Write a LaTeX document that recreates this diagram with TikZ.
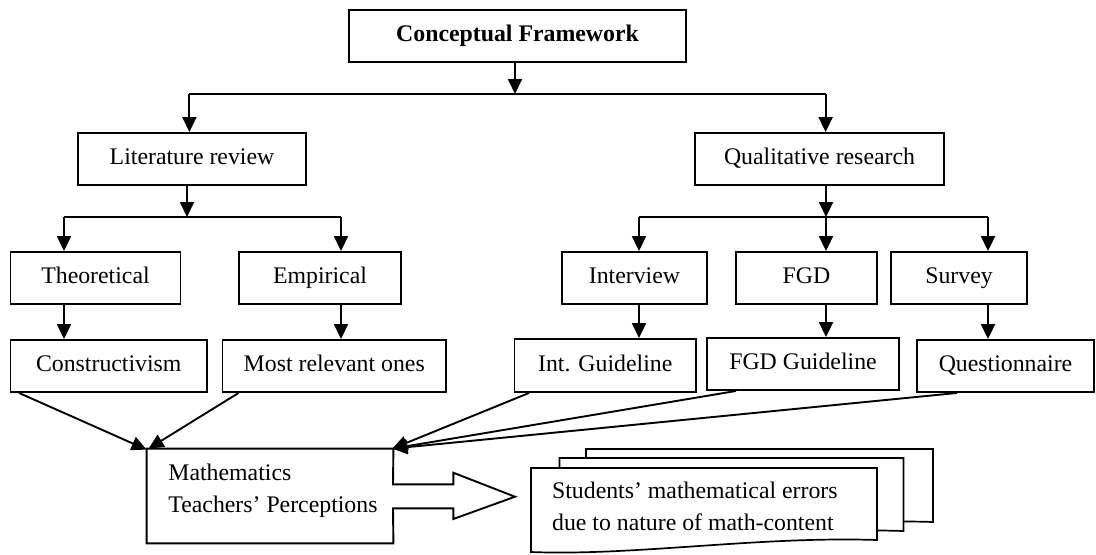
\documentclass[tikz,border=0pt]{standalone}
\usepackage{fontspec}
\setmainfont{Liberation Serif}
\usetikzlibrary{arrows.meta,calc}
\begin{document}
\begin{tikzpicture}[x=0.5pt,y=-0.5pt,
 ln/.style={line width=0.95pt},
 arr/.style={ln,-{Triangle[length=7.5pt,width=7pt]}},
 fnt/.style={font=\fontsize{11.9pt}{16pt}\selectfont},
 box/.style={draw,ln,fnt,inner sep=0pt,minimum height=26pt,text height=8.2pt,text depth=2.6pt},
 txt/.style={fnt,inner sep=0pt,align=left},
 doc/.style={draw,line width=0.85pt,fill=white}]
\useasboundingbox (0,0) rectangle (1096,554);

% boxes
\node[box,minimum width=168.5pt,font=\fontsize{11.9pt}{16pt}\selectfont\bfseries] (cf) at (517.5,36) {Conceptual Framework};
\node[box,minimum width=114pt] (lit) at (192,159) {Literature review};
\node[box,minimum width=124.5pt] (qual) at (819.5,159) {Qualitative research};
\node[box,minimum width=85pt] (theo) at (95.5,278) {Theoretical};
\node[box,minimum width=81pt] (emp) at (320,278) {Empirical};
\node[box,minimum width=98.25pt] (cons) at (108.75,366) {Constructivism};
\node[box,minimum width=111.75pt] (most) at (334.25,366) {Most relevant ones};
\node[box,minimum width=72.5pt] (intv) at (634.5,278) {Interview};
\node[box,minimum width=70.5pt] (fgd) at (806.5,278) {FGD};
\node[box,minimum width=68pt] (surv) at (959,278) {Survey};
\node[box,minimum width=90.75pt,minimum height=26.5pt] (intg) at (605.25,365.5) {Int. Guideline};
\node[box,minimum width=96pt] (fgdg) at (803,364) {FGD Guideline};
\node[box,minimum width=88.5pt] (quest) at (1005.5,366) {Questionnaire};

% top level connectors
\coordinate (j0) at (515,94);
\coordinate (h0L) at (189.4,94);
\coordinate (h0R) at (825.6,94);
\draw[arr] (cf.south -| j0) -- (j0);
\draw[ln] (h0L) -- (h0R);
\draw[arr] (h0L) -- (h0L |- lit.north);
\draw[arr] (h0R) -- (h0R |- qual.north);

% literature branch
\coordinate (j1) at (187,217);
\coordinate (h1L) at (64,217);
\coordinate (h1R) at (341,217);
\draw[arr] (lit.south -| j1) -- (j1);
\draw[ln] (h1L) -- (h1R);
\draw[arr] (h1L) -- (h1L |- theo.north);
\draw[arr] (h1R) -- (h1R |- emp.north);
\draw[arr] (theo.south -| h1L) -- (h1L |- cons.north);
\draw[arr] (emp.south -| h1R) -- (h1R |- most.north);

% qualitative branch
\coordinate (j2) at (826,217);
\coordinate (h2L) at (639,217);
\coordinate (h2R) at (988,217);
\draw[arr] (qual.south -| j2) -- (j2);
\draw[ln] (h2L) -- (h2R);
\draw[arr] (h2L) -- (h2L |- intv.north);
\draw[arr] (j2) -- (j2 |- fgd.north);
\draw[arr] (h2R) -- (h2R |- surv.north);
\draw[arr] (intv.south -| h2L) -- (h2L |- intg.north);
\draw[arr] (fgd.south -| j2) -- (j2 |- fgdg.north);
\draw[arr] (surv.south -| h2R) -- (h2R |- quest.north);

% mathematics box with block arrow
\node[inner sep=0pt,minimum width=123pt,minimum height=47pt] (mbox) at (270,496) {};
\draw[ln,fill=white] (mbox.north west) -- (mbox.north east) -- (393,484.3) -- (453.3,484.3)
  -- (453.3,472.7) -- (515,496.7) -- (453.3,519) -- (453.3,508.3) -- (393,508.3)
  -- (mbox.south east) -- (mbox.south west) -- cycle;
\node[txt,anchor=west] (mtxt) at (168,491) {Mathematics\\Teachers’ Perceptions};

% converging arrows
\draw[arr] ($(cons.south west)+(9.5,0)$) -- ($(mbox.north west)+(0,1)$);
\draw[arr] ($(most.south west)+(17,0)$) -- ($(mbox.north west)+(2,0)$);
\draw[arr] ($(intg.south west)+(15.5,0)$) -- ($(mbox.north east)+(-1,0)$);
\draw[arr] ($(fgdg.south west)+(30,0)$) -- ($(mbox.north east)+(-1,0)$);
\draw[arr] ($(quest.south west)+(41,0)$) -- ($(mbox.north east)+(-1,0)$);

% stacked documents
\draw[doc] (586,449) -- (933,449) -- (933,522) .. controls (815,518) and (690,538) .. (586,534) -- cycle;
\draw[doc] (559.5,458) -- (903.5,458) -- (903.5,531) .. controls (786,527) and (663,547) .. (559.5,543) -- cycle;
\draw[doc] (531,468) -- (877,468) -- (877,540) .. controls (759,536) and (635,556) .. (531,552) -- cycle;
\node[txt,anchor=west] (stxt) at (551.7,506) {Students’ mathematical errors\\due to nature of math-content};
\end{tikzpicture}
\end{document}
